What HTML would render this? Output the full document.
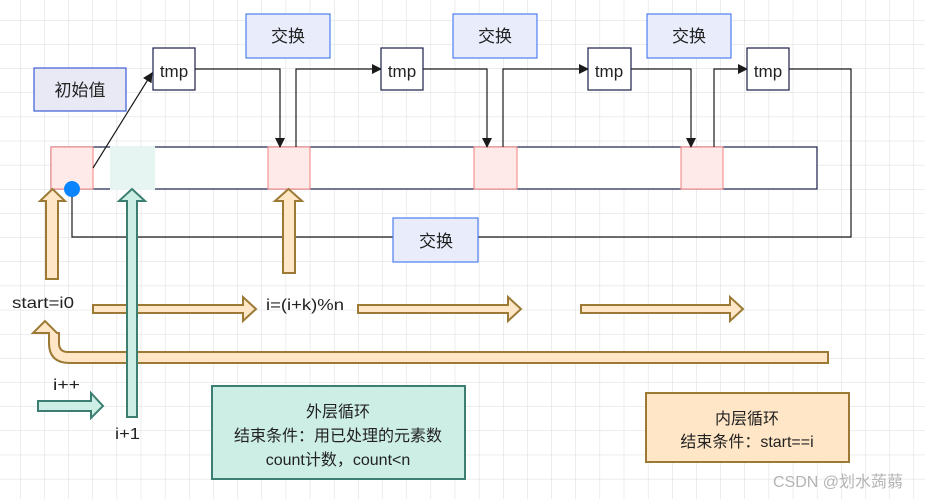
<!DOCTYPE html>
<html><head><meta charset="utf-8"><style>
html,body{margin:0;padding:0;background:#fff;}
svg{display:block;}
text{font-family:"Liberation Sans","Noto Sans CJK SC",sans-serif;fill:#222;}
</style></head><body>
<svg width="925" height="499" viewBox="0 0 925 499" xmlns="http://www.w3.org/2000/svg">
<defs>
<pattern id="g" x="20" y="20" width="24.15" height="24.15" patternUnits="userSpaceOnUse">
<path d="M0 0H24.15M0 0V24.15" stroke="#dadada" stroke-width="1" fill="none"/>
</pattern>
<marker id="ah" markerWidth="10" markerHeight="10" refX="9" refY="5" orient="auto" markerUnits="userSpaceOnUse">
<path d="M0,0 L10,5 L0,10 Z" fill="#1a1a1a"/>
</marker>
</defs>
<rect width="925" height="499" fill="url(#g)"/>

<rect x="51" y="147" width="766" height="42" fill="#fff" stroke="#1a1f4a" stroke-width="1.2"/>
<rect x="51" y="147" width="42" height="42" fill="#ffeaea" stroke="#f08080"/>
<rect x="268" y="147" width="42" height="42" fill="#ffeaea" stroke="#f08080"/>
<rect x="474" y="147" width="43" height="42" fill="#ffeaea" stroke="#f08080"/>
<rect x="681" y="147" width="42" height="42" fill="#ffeaea" stroke="#f08080"/>
<rect x="110" y="146" width="45" height="44" fill="#e6f5f1"/>

<g stroke="#1a1a1a" stroke-width="1.2" fill="none">
<path d="M93 168 L152 73" marker-end="url(#ah)"/>
<path d="M195 69 H280 V147" marker-end="url(#ah)"/>
<path d="M296 147 V69 H381" marker-end="url(#ah)"/>
<path d="M423 69 H487 V147" marker-end="url(#ah)"/>
<path d="M503 147 V69 H588" marker-end="url(#ah)"/>
<path d="M631 69 H691 V147" marker-end="url(#ah)"/>
<path d="M714 147 V69 H747" marker-end="url(#ah)"/>
<path d="M789 69 H851 V237 H72 V189"/>
</g>

<g stroke-width="1.2">
<rect x="34" y="68" width="92" height="43" fill="#e8e9f5" stroke="#3d5bd6"/>
<rect x="246" y="14" width="84" height="44" fill="#e8ecfb" stroke="#4d7fef"/>
<rect x="453" y="14" width="84" height="44" fill="#e8ecfb" stroke="#4d7fef"/>
<rect x="647" y="14" width="84" height="44" fill="#e8ecfb" stroke="#4d7fef"/>
<rect x="393" y="218" width="85" height="44" fill="#e8ecfb" stroke="#4d7fef"/>
<rect x="153" y="48" width="42" height="42" fill="#fff" stroke="#1a1f4a"/>
<rect x="381" y="48" width="42" height="42" fill="#fff" stroke="#1a1f4a"/>
<rect x="588" y="48" width="43" height="42" fill="#fff" stroke="#1a1f4a"/>
<rect x="747" y="48" width="42" height="42" fill="#fff" stroke="#1a1f4a"/>
</g>
<g font-size="17" text-anchor="middle">
<text x="80" y="96">初始值</text>
<text x="288" y="42">交换</text>
<text x="495" y="42">交换</text>
<text x="689" y="42">交换</text>
<text x="436" y="247">交换</text>
</g>
<g font-size="17" text-anchor="middle">
<text x="174" y="77">tmp</text>
<text x="402" y="77">tmp</text>
<text x="609" y="77">tmp</text>
<text x="768" y="77">tmp</text>
</g>
<circle cx="72" cy="189" r="8" fill="#0a84ff"/>

<g fill="#ffe6c7" stroke="#9c7a35" stroke-width="2">
<path d="M46 279 V201 H40 L52.5 189 L65 201 H58 V279 Z"/>
<path d="M283 273 V201 H275 L288.5 189 L302 201 H295 V273 Z"/>
<path d="M93 305 H243 V297 L256 309 L243 321 V313 H93 Z"/>
<path d="M358 305 H508 V297 L521 309 L508 321 V313 H358 Z"/>
<path d="M581 305 H730 V297 L743 309 L730 321 V313 H581 Z"/>
<path d="M828 352 H68 Q59 352 59 343 V333 H57 L45 321 L33 333 H49 V343 Q49 363 70 363 H828 Z"/>
</g>
<g fill="#cdeee5" stroke="#3c7f72" stroke-width="2">
<path d="M127 417 V201 H119 L132 189 L145 201 H137 V417 Z"/>
<path d="M38 401 H91 V393 L103 406 L91 418 V411 H38 Z"/>
</g>

<g font-size="16">
<text x="12" y="308" textLength="62" lengthAdjust="spacingAndGlyphs">start=i0</text>
<text x="266" y="310" textLength="78" lengthAdjust="spacingAndGlyphs">i=(i+k)%n</text>
<text x="53" y="390" textLength="27" lengthAdjust="spacingAndGlyphs">i++</text>
<text x="115" y="439" textLength="25" lengthAdjust="spacingAndGlyphs">i+1</text>
</g>

<rect x="212" y="386" width="253" height="93" fill="#cdeee5" stroke="#3c7f72" stroke-width="2"/>
<g font-size="16" text-anchor="middle">
<text x="338" y="417">外层循环</text>
<text x="338" y="441">结束条件：用已处理的元素数</text>
<text x="338" y="465">count计数，count&lt;n</text>
</g>
<rect x="646" y="393" width="203" height="69" fill="#ffe6c7" stroke="#9c7a35" stroke-width="2"/>
<g font-size="16" text-anchor="middle">
<text x="747" y="424">内层循环</text>
<text x="747" y="447">结束条件：start==i</text>
</g>
<text x="773" y="487" font-size="16" style="fill:#b4b4b4">CSDN @划水蒟蒻</text>
</svg>
</body></html>
